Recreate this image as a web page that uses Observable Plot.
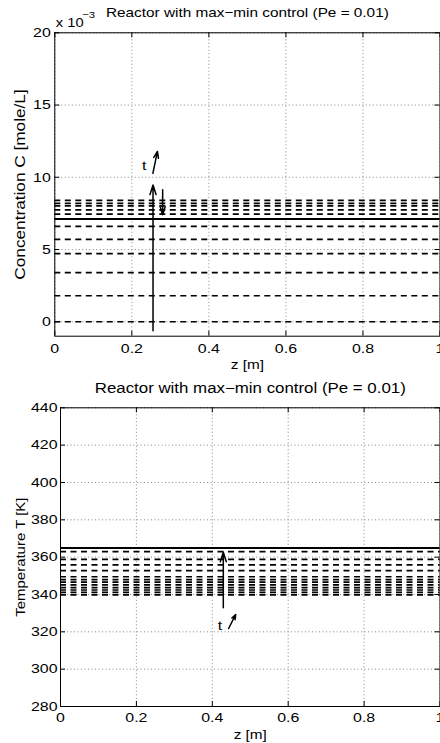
<!DOCTYPE html>
<html><head><meta charset="utf-8">
<script src="https://cdn.jsdelivr.net/npm/d3@7"></script>
<script src="https://cdn.jsdelivr.net/npm/@observablehq/plot@0.6"></script>
<style>
html,body{margin:0;padding:0;background:#fff;overflow:hidden;}
#chart svg{display:block;}
</style></head><body><div id="chart"></div>
<script>
// ---------- data ----------
const zTicks = [0, 0.2, 0.4, 0.6, 0.8, 1];
const concTicks = [0, 5, 10, 15, 20];
const tempTicks = [280, 300, 320, 340, 360, 380, 400, 420, 440];
const titleText = "Reactor with max\u2212min control (Pe = 0.01)";

// concentration profiles (x 10^-3 mole/L), flat along z
const concProfiles = [0, 1.8, 3.4, 4.72, 5.7, 6.6, 7.45, 7.75, 8.02, 8.2, 8.4];
const concFinal = [7.12];
// temperature profiles (K)
const tempProfiles = [339.8, 341.1, 342.4, 343.7, 345.2, 346.6, 348.0, 349.5, 352.8, 355.9, 358.8, 363.0];
const tempFinal = [364.9];

// annotation arrows (data coordinates)
const concArrows = [
  {x1: 0.255, y1: -0.62, x2: 0.255, y2: 9.47},
  {x1: 0.28, y1: 9.14, x2: 0.28, y2: 7.4}
];
const concTArrow = [{x1: 0.2546, y1: 10.27, x2: 0.2665, y2: 11.79}];
const concTLabel = [{x: 0.232, y: 10.8, t: "t"}];
const tempArrows = [{x1: 0.429, y1: 332.9, x2: 0.429, y2: 362.6}];
const tempTArrow = [{x1: 0.443, y1: 321.8, x2: 0.4617, y2: 329.3}];
const tempTLabel = [{x: 0.42, y: 323.4, t: "t"}];

// ---------- drawing ----------
const FONT = "'Liberation Sans', Arial, Helvetica, sans-serif";
const SX = 1.18;
const W = 440;

function stretchText(svg, sx) {
  svg.querySelectorAll("text").forEach(t => {
    const tr = t.getAttribute("transform");
    if (tr) t.setAttribute("transform", tr + ` scale(${sx},1)`);
    else {
      const x = parseFloat(t.getAttribute("x")) || 0;
      t.removeAttribute("x");
      t.setAttribute("transform", `translate(${x},0) scale(${sx},1)`);
    }
  });
}

function panel(o) {
  const frameH = o.height - o.marginTop - o.marginBottom;
  const frameW = W - o.marginLeft - o.marginRight;
  const grid = {stroke: "#888", strokeOpacity: 1, strokeWidth: 1, strokeDasharray: "1,2.5"};
  const svg = Plot.plot({
    width: W, height: o.height,
    marginTop: o.marginTop, marginBottom: o.marginBottom,
    marginLeft: o.marginLeft, marginRight: o.marginRight,
    style: {fontFamily: FONT, fontSize: "13.5px", background: "white", color: "black"},
    x: {domain: [0, 1]},
    y: {domain: o.yDomain},
    marks: [
      Plot.gridX(zTicks, grid),
      Plot.gridY(o.yTicks, grid),
      Plot.ruleY(o.profiles, {y: d => d, stroke: "black", strokeWidth: 1.7, strokeDasharray: "6,4.5"}),
      Plot.ruleY(o.final, {y: d => d, stroke: "black", strokeWidth: 2}),
      Plot.arrow(o.arrows, {x1: "x1", y1: "y1", x2: "x2", y2: "y2", stroke: "black", strokeWidth: 1.5, headLength: 10, headAngle: 35}),
      Plot.arrow(o.tArrow, {x1: "x1", y1: "y1", x2: "x2", y2: "y2", stroke: "black", strokeWidth: 1.5, headLength: 7, headAngle: 40}),
      Plot.text(o.tLabel, {x: "x", y: "y", text: "t", fontSize: 13.5, fill: "black"}),
      Plot.frame({stroke: "black", strokeWidth: 1}),
      Plot.ruleX(zTicks, {x: d => d, insetTop: frameH - 5, stroke: "black"}),
      Plot.ruleX(zTicks, {x: d => d, insetBottom: frameH - 5, stroke: "black"}),
      Plot.ruleY(o.yTicks, {y: d => d, insetRight: frameW - 5, stroke: "black"}),
      Plot.ruleY(o.yTicks, {y: d => d, insetLeft: frameW - 5, stroke: "black"}),
      Plot.axisX(zTicks, {tickSize: 0, tickPadding: o.xPad, label: null, tickFormat: d => String(d), fontSize: 13.5}),
      Plot.axisY(o.yTicks, {tickSize: 0, tickPadding: o.yPad, label: null, tickFormat: d => String(d), fontSize: 13.5}),
      Plot.text([o.title], {frameAnchor: "top", lineAnchor: "middle", dy: o.titleDy, text: d => d, fontSize: o.titleSize, fill: "black"}),
      Plot.text([o.ylabel], {frameAnchor: "left", lineAnchor: "middle", textAnchor: "middle", dx: o.ylabelDx, rotate: -90, text: d => d, fontSize: o.ylabelSize, fill: "black"}),
      Plot.text(["z [m]"], {frameAnchor: "bottom", lineAnchor: "middle", dy: o.xlabelDy, text: d => d, fontSize: 13, fill: "black"}),
      ...(o.extra || [])
    ]
  });
  stretchText(svg, SX);
  return svg;
}

const concPanel = panel({
  height: 376, marginTop: 32.3, marginBottom: 40.3, marginLeft: 54.3, marginRight: 0.5,
  yDomain: [-1, 20], yTicks: concTicks,
  profiles: concProfiles, final: concFinal,
  arrows: concArrows, tArrow: concTArrow, tLabel: concTLabel,
  title: titleText, titleSize: 13, titleDy: -20,
  ylabel: "Concentration C [mole/L]", ylabelSize: 14.6, ylabelDx: -34,
  xlabelDy: 28.5, xPad: 7, yPad: 4,
  extra: [
    Plot.text(["x 10"], {frameAnchor: "top-left", lineAnchor: "middle", dx: 1, dy: -9.5, text: d => d, textAnchor: "start", fontSize: 12.5, fill: "black"}),
    Plot.text(["\u22123"], {frameAnchor: "top-left", lineAnchor: "middle", dx: 27.5, dy: -17.5, text: d => d, textAnchor: "start", fontSize: 9.5, fill: "black"})
  ]
});

const tempPanel = panel({
  height: 367, marginTop: 31.3, marginBottom: 37, marginLeft: 60, marginRight: 0.5,
  yDomain: [280, 440], yTicks: tempTicks,
  profiles: tempProfiles, final: tempFinal,
  arrows: tempArrows, tArrow: tempTArrow, tLabel: tempTLabel,
  title: titleText, titleSize: 14.3, titleDy: -19,
  ylabel: "Temperature T [K]", ylabelSize: 12.7, ylabelDx: -40,
  xlabelDy: 28.5, xPad: 6, yPad: 3
});

document.getElementById("chart").append(concPanel, tempPanel);
</script>
</body></html>
